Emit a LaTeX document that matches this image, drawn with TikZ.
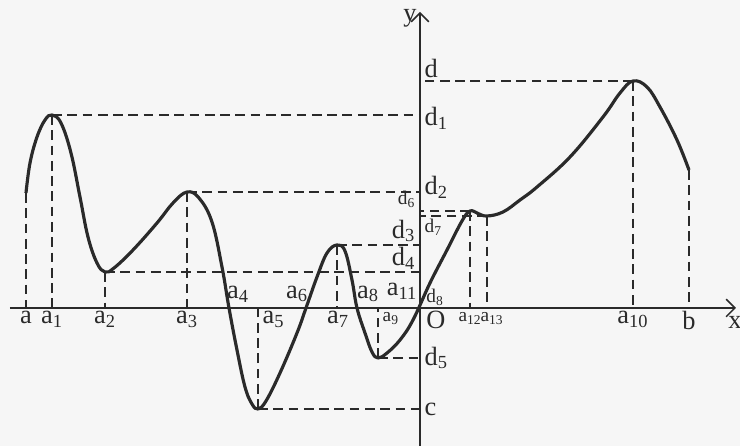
\documentclass[tikz,border=0pt]{standalone}
\usepackage{fontspec}
\setmainfont{Liberation Serif}
\usetikzlibrary{arrows.meta, positioning, calc}
\definecolor{inkDark}{HTML}{2A2A2A}
\definecolor{paperGray}{HTML}{F6F6F6}
\newcommand{\ix}[2]{#1\textsubscript{#2}}

\begin{document}
\begin{tikzpicture}[every node/.style={font=\fontsize{15}{17}\selectfont, text=inkDark, inner sep=1.5pt},
    curveline/.style={line width=1.8pt, draw=inkDark, line join=round},
    guideline/.style={line width=1.3pt, draw=inkDark, dash pattern=on 5.5pt off 3.2pt},
    axisline/.style={line width=0.9pt, draw=inkDark, -{Straight Barb[length=5pt, width=10pt]}},
    smalllbl/.style={font=\fontsize{11}{13}\selectfont}]
  \fill[paperGray] (-8.4,-2.76) rectangle (6.4,6.16);
  \useasboundingbox (-8.4,-2.76) rectangle (6.4,6.16);

  % extrema of the curve
  \coordinate (O) at (0,0);
  \coordinate (pa) at (-7.88,2.30);
  \coordinate (p1) at (-7.36,3.86);
  \coordinate (p2) at (-6.30,0.72);
  \coordinate (p3) at (-4.66,2.32);
  \coordinate (p5) at (-3.24,-2.02);
  \coordinate (p7) at (-1.66,1.26);
  \coordinate (p9) at (-0.84,-1.00);
  \coordinate (p12) at (1.00,1.94);
  \coordinate (p13) at (1.34,1.84);
  \coordinate (p10) at (4.26,4.54);
  \coordinate (pb) at (5.38,2.76);

  % axes
  \coordinate (xL) at (-8.2,0);
  \coordinate (xR) at (6.32,0);
  \coordinate (yB) at (0,-2.8);
  \coordinate (yT) at (0,5.92);
  \draw[axisline] (xL) -- (xR);
  \draw[axisline] (yB) -- (yT);
  \node at (6.3,-0.28) {x};
  \node at (-0.2,5.8) {y};

  % guide lines
  \foreach \p in {pa, p1, p2, p3, p5, p7, p9, p12, p13, p10, pb}
    \draw[guideline] (\p) -- (\p |- O);
  \foreach \p in {p1, p2, p3, p5, p7, p9, p12, p13, p10}
    \draw[guideline] (\p) -- (\p -| O);

  % the curve
  \draw[curveline] plot[smooth, tension=0.65] coordinates {
    (-7.88,2.30) (-7.80,2.90) (-7.66,3.42) (-7.50,3.76) (-7.36,3.86)
    (-7.18,3.70) (-6.98,3.10) (-6.80,2.22) (-6.64,1.42) (-6.46,0.90) (-6.30,0.72)
    (-6.12,0.80) (-5.74,1.16) (-5.26,1.70) (-4.94,2.10) (-4.66,2.32)
    (-4.42,2.20) (-4.16,1.72) (-3.96,0.82) (-3.82,0) (-3.66,-0.84) (-3.50,-1.58)
    (-3.36,-1.92) (-3.24,-2.02)
    (-3.08,-1.86) (-2.80,-1.30) (-2.46,-0.50) (-2.28,0) (-2.06,0.62) (-1.86,1.10) (-1.66,1.26)
    (-1.50,1.14) (-1.36,0.56) (-1.26,0) (-1.10,-0.50) (-0.96,-0.88) (-0.84,-1.00)
    (-0.66,-0.90) (-0.40,-0.64) (-0.14,-0.24) (0.20,0.50) (0.54,1.16) (0.84,1.74) (1.00,1.94)
    (1.16,1.89) (1.34,1.84)
    (1.66,1.92) (2.00,2.16) (2.34,2.42) (3.00,3.02) (3.66,3.82) (4.00,4.30) (4.26,4.54)
    (4.54,4.42) (4.80,4.02) (5.14,3.36) (5.38,2.76)};

  % labels below the x axis
  \foreach \p/\t in {pa/a, p1/\ix{a}{1}, p2/\ix{a}{2}, p3/\ix{a}{3}, p10/\ix{a}{10}, pb/b}
    \node[below=0pt] at (\p |- O) {\t};
  \node[below right=0pt and 1pt] at (p5 |- O) {\ix{a}{5}};
  \node[below=0pt] at (-1.64,0) {\ix{a}{7}};
  \node[smalllbl, below right=1pt and 1pt] at (p9 |- O) {\ix{a}{9}};
  \node[below right=0pt and 2pt] at (O) {O};
  \node[smalllbl, below=1pt] at (p12 |- O) {\ix{a}{12}};
  \node[smalllbl, below=1pt] at (1.44,0) {\ix{a}{13}};

  % labels above the x axis
  \node at (-3.64,0.28) {\ix{a}{4}};
  \node at (-2.46,0.28) {\ix{a}{6}};
  \node at (-1.04,0.28) {\ix{a}{8}};
  \node at (-0.36,0.33) {\ix{a}{11}};

  % labels on the y axis
  \node[above right=0pt and 1pt] at (p10 -| O) {d};
  \node[right=1pt] at (0,3.8) {\ix{d}{1}};
  \node[right=1pt] at (0,2.42) {\ix{d}{2}};
  \node[above left=0pt and 1pt, smalllbl] at (p12 -| O) {\ix{d}{6}};
  \node[below right=0pt and 1pt, smalllbl] at (p13 -| O) {\ix{d}{7}};
  \node[above left=0pt and 1pt] at (p7 -| O) {\ix{d}{3}};
  \node[above left=0pt and 1pt] at (p2 -| O) {\ix{d}{4}};
  \node[right=2pt, smalllbl] at (0,0.22) {\ix{d}{8}};
  \node[right=1pt] at (p9 -| O) {\ix{d}{5}};
  \node[right=1pt] at (p5 -| O) {c};
\end{tikzpicture}
\end{document}
